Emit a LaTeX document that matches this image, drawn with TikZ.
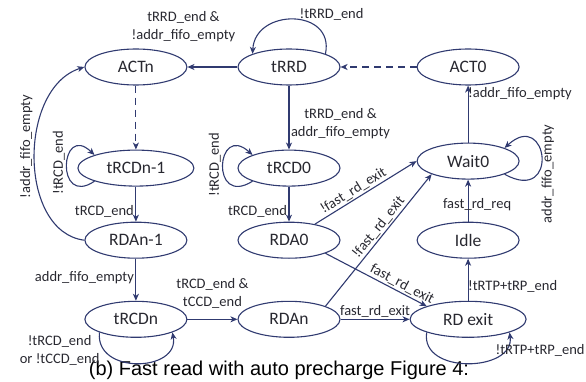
\documentclass[tikz,border=0pt]{standalone}
\usepackage{fontspec}
\setmainfont{Carlito}
\newfontfamily\capfont{Liberation Sans}
\usetikzlibrary{positioning}
\usetikzlibrary{shapes.geometric}
\usetikzlibrary{arrows.meta}
\definecolor{fsmblue}{RGB}{48,58,112}
\definecolor{fsmtext}{RGB}{40,40,48}

\begin{document}
\begin{tikzpicture}
  [
    x=1pt,y=-1pt,
    font=\fontsize{17.5}{18}\selectfont,
    state/.style={
      ellipse,
      draw=fsmblue,
      line width=1.1pt,
      inner sep=0pt,
      minimum height=36pt,minimum width=102pt,
      text=fsmtext
    },
    wide/.style={minimum width=116pt},
    trans/.style={draw=fsmblue,line width=1.1pt,
      -{Stealth[length=7pt,width=6pt,inset=2pt]}},
    lbl/.style={font=\fontsize{14.5}{18}\selectfont,text=fsmtext,inner sep=1.5pt},
  ]
  \useasboundingbox (0,0) rectangle (586,382);
  \node[state]                          (trrd)    at (289,67) {tRRD};
  \node[state,left=50pt of trrd]        (actn)    {ACTn};
  \node[state,right=76pt of trrd]       (act0)    {ACT0};
  \node[state,wide,below=64pt of actn]  (trcdn-1) {tRCDn-1};
  \node[state,below=64pt of trrd]       (trcd0)   {tRCD0};
  \node[state,below=57pt of act0]       (wait0)   {Wait0};
  \node[state,below=35pt of trcdn-1]    (rdan-1)  {RDAn-1};
  \node[state,below=35pt of trcd0]      (rda0)    {RDA0};
  \node[state,below=42pt of wait0]      (idle)    {Idle};
  \node[state,below=42pt of rdan-1]     (trcdn)   {tRCDn};
  \node[state,below=42pt of rda0]       (rdan)    {RDAn};
  \node[state,wide,below=42pt of idle]  (rd-exit) {RD exit};
  \node[font=\capfont\fontsize{20}{20}\selectfont,anchor=base] (caption) at (279,375)
      {(b) Fast read with auto precharge Figure 4:};

  % top row
  \draw[trans] (trrd) --
      node[lbl,above=23pt,xshift=-29pt,align=center] {tRRD\_end \&\\!addr\_fifo\_empty}
        (actn);
  \draw[trans] (trrd.north east) .. controls (335,8) and (255,8) .. (trrd.north west)
      node[lbl,pos=0.5,anchor=south west,xshift=4pt,yshift=-3pt] {!tRRD\_end};
  \draw[trans,dash pattern=on 7pt off 5pt] (act0) -- (trrd);
  \draw[trans,dash pattern=on 7pt off 5pt] (actn) -- (trcdn-1);
  \draw[trans] (trrd) --
      node[lbl,pos=0.6,right,align=center] {tRRD\_end \&\\addr\_fifo\_empty}
        (trcd0);

  % left column
  \draw[trans] (trcdn-1.south west) .. controls (55,208) and (60,122) .. (trcdn-1.north west)
      node[lbl,pos=0.5,rotate=90,above=3pt] {!tRCD\_end};
  \draw[trans] (trcdn-1) -- node[lbl,pos=0.7,left] {tRCD\_end} (rdan-1);
  \draw[trans] (rdan-1.west) .. controls (18,232) and (18,88) .. (actn.west)
      node[lbl,pos=0.5,rotate=90,above=12pt] {!addr\_fifo\_empty};
  \draw[trans] (rdan-1) -- node[lbl,pos=0.45,left] {addr\_fifo\_empty} (trcdn);
  \draw[trans] (trcdn.south west) .. controls (95,375) and (180,372) .. (trcdn.south east)
      node[lbl,pos=0,anchor=north east,align=center,xshift=2pt,yshift=-1pt] {!tRCD\_end\\or !tCCD\_end};
  \draw[trans] (trcdn) --
      node[lbl,above=9pt,align=center] {tRCD\_end \&\\tCCD\_end}
        (rdan);

  % middle column
  \draw[trans] (trcd0.south west) .. controls (210,208) and (216,122) .. (trcd0.north west)
      node[lbl,pos=0.5,rotate=90,above=1pt] {!tRCD\_end};
  \draw[trans] (trcd0) -- node[lbl,pos=0.7,left] {tRCD\_end} (rda0);
  \draw[trans] (rda0) -- node[lbl,pos=0.42,sloped,above] {!fast\_rd\_exit} (wait0.west);
  \draw[trans] (rdan.north east) --
      node[lbl,pos=0.56,sloped,above] {!fast\_rd\_exit} (wait0.south west);
  \draw[trans] (rda0.south east) --
      node[lbl,pos=0.72,sloped,above=0pt] {fast\_rd\_exit} (rd-exit.north west);
  \draw[trans] (rdan) -- node[lbl,above] {fast\_rd\_exit} (rd-exit);

  % right column
  \draw[trans] (rd-exit) -- node[lbl,pos=0.35,right=-2pt] {!tRTP+tRP\_end} (idle);
  \draw[trans] (rd-exit.south west) .. controls (420,375) and (515,372) .. (rd-exit.south east)
      node[lbl,pos=1,anchor=north west,xshift=-16pt,yshift=-10pt] {!tRTP+tRP\_end};
  \draw[trans] (idle) -- node[lbl,pos=0.4,xshift=9pt] {fast\_rd\_req} (wait0);
  \draw[trans] (wait0) -- node[lbl,pos=0.86,right=-2pt] {!addr\_fifo\_empty} (act0);
  \draw[trans] (wait0.south east) .. controls (560,205) and (548,108) .. (wait0.north east)
      node[lbl,pos=0.35,rotate=90,below=3pt] {addr\_fifo\_empty};
\end{tikzpicture}
\end{document}
